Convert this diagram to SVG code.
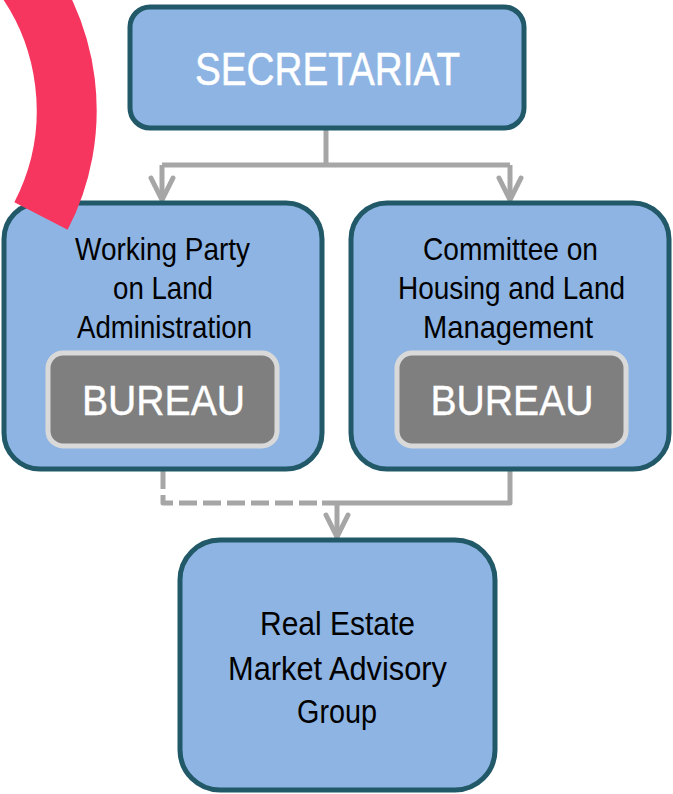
<svg xmlns="http://www.w3.org/2000/svg" width="673" height="794" viewBox="0 0 673 794">
  <defs>
    <style>
      .box { fill: #8eb4e3; stroke: #215968; stroke-width: 5; }
      .bureau { fill: #7f7f7f; stroke: #d9d9d9; stroke-width: 5; }
      text { font-family: "Liberation Sans", Arial, sans-serif; text-anchor: middle; }
      .lbl { fill: #000; font-size: 32px; }
      .lbl-s { fill: #000; font-size: 33px; }
      .big { fill: #fff; font-size: 46px; stroke: #fff; stroke-width: 0.5; }
      .bu { fill: #fff; font-size: 42px; stroke: #fff; stroke-width: 0.4; }
      .link { fill: none; stroke: #a6a6a6; stroke-width: 5; stroke-linejoin: round; }
      .dash { stroke-dasharray: 18 6; }
    </style>
    <marker id="arrow" markerUnits="userSpaceOnUse" markerWidth="30" markerHeight="30" refX="25" refY="15" orient="auto" viewBox="0 0 30 30" overflow="visible">
      <path d="M3,4 L25,15 L3,26" fill="none" stroke="#a6a6a6" stroke-width="5" stroke-linecap="round" stroke-linejoin="miter"/>
    </marker>
  </defs>

  <!-- connectors -->
  <g id="connectors">
    <path class="link" d="M326,128 V165"/>
    <path class="link" d="M162,165 H510"/>
    <path class="link" d="M162,165 V200" marker-end="url(#arrow)"/>
    <path class="link" d="M510,165 V200" marker-end="url(#arrow)"/>
    <path class="link dash" d="M163,471 V503 H322"/>
    <path class="link" d="M322,503 H510 V471"/>
    <path class="link" d="M337,503 V537" marker-end="url(#arrow)"/>
    <line x1="322" y1="336" x2="352" y2="336" stroke="#ffffff" stroke-width="6"/>
  </g>

  <g id="secretariat">
    <rect class="box" x="130" y="7" width="394" height="121" rx="20"/>
    <text class="big" x="327.5" y="85" textLength="265" lengthAdjust="spacingAndGlyphs">SECRETARIAT</text>
  </g>

  <g id="wpla">
    <rect class="box" x="4" y="203" width="318" height="266" rx="36"/>
    <text class="lbl" x="162.5" y="260" textLength="175" lengthAdjust="spacingAndGlyphs">Working Party</text>
    <text class="lbl" x="163" y="299" textLength="100" lengthAdjust="spacingAndGlyphs">on Land</text>
    <text class="lbl" x="164.5" y="338" textLength="175" lengthAdjust="spacingAndGlyphs">Administration</text>
    <g id="wpla-bureau">
      <rect class="bureau" x="48" y="353" width="229" height="93" rx="15"/>
      <text class="bu" x="163.5" y="415" textLength="163" lengthAdjust="spacingAndGlyphs">BUREAU</text>
    </g>
  </g>

  <g id="chlm">
    <rect class="box" x="351" y="203" width="318" height="266" rx="36"/>
    <text class="lbl" x="510.5" y="260" textLength="175" lengthAdjust="spacingAndGlyphs">Committee on</text>
    <text class="lbl" x="511.5" y="299" textLength="227" lengthAdjust="spacingAndGlyphs">Housing and Land</text>
    <text class="lbl" x="508" y="338" textLength="170" lengthAdjust="spacingAndGlyphs">Management</text>
    <g id="chlm-bureau">
      <rect class="bureau" x="397" y="353" width="229" height="93" rx="15"/>
      <text class="bu" x="512" y="415" textLength="163" lengthAdjust="spacingAndGlyphs">BUREAU</text>
    </g>
  </g>

  <g id="remag">
    <rect class="box" x="180" y="540" width="315" height="250" rx="40"/>
    <text class="lbl-s" x="337.5" y="635" textLength="155" lengthAdjust="spacingAndGlyphs">Real Estate</text>
    <text class="lbl-s" x="337.5" y="680" textLength="219" lengthAdjust="spacingAndGlyphs">Market Advisory</text>
    <text class="lbl-s" x="337" y="723" textLength="80" lengthAdjust="spacingAndGlyphs">Group</text>
  </g>

  <!-- decorative pink arc in the top-left corner -->
  <path d="M9,-42 A230,230 0 0 1 41,216" fill="none" stroke="#f7365f" stroke-width="60"/>
</svg>
